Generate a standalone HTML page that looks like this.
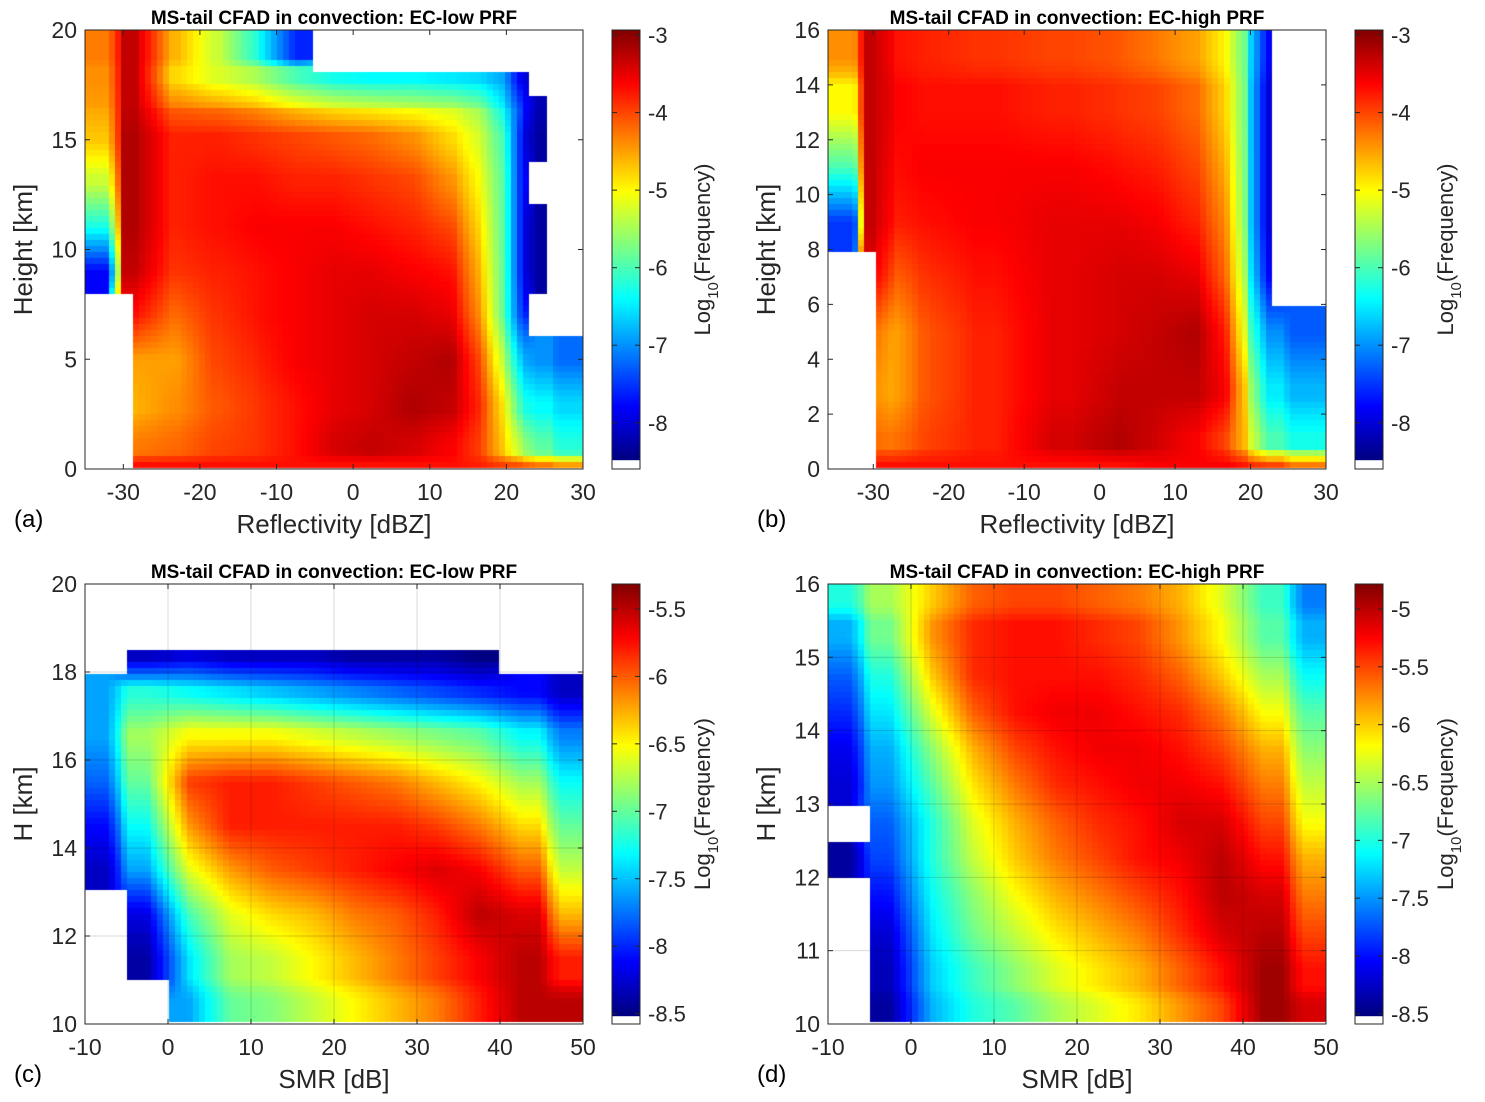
<!DOCTYPE html>
<html><head><meta charset="utf-8">
<style>
body{margin:0;background:#fff;width:1485px;height:1102px;overflow:hidden;position:relative;font-family:"Liberation Sans","DejaVu Sans",sans-serif}
canvas{position:absolute}
svg{position:absolute;left:0;top:0}
</style></head>
<body>
<canvas id="ca" style="left:85px;top:30px" width="498" height="439"></canvas>
<canvas id="cb" style="left:828px;top:30px" width="498" height="439"></canvas>
<canvas id="cc" style="left:85px;top:584px" width="498" height="440"></canvas>
<canvas id="cd" style="left:828px;top:584px" width="498" height="440"></canvas>
<svg id="ov" width="1485" height="1102"></svg>
<script>
const N=null;
// Panel a: reflectivity bins and log10 frequency
const aXEdges=[-35,-29,-27,-20,-15,-10,-5,0,5,10,15,18,21,23,25,30];
const aYEdges=[20,18,17,16,14,12,10,8,6,4,2,0.5,0];
const aVals=[
[-4.3,-3.3,-4.6,-5.3,-6.3,-7.6,N,N,N,N,N,N,N,N,N],
[-4.4,-3.3,-4.8,-5.2,-5.5,-6,-6.3,-6.4,-6.4,-6.5,-6.6,-6.9,-8,N,N],
[-4.5,-3.3,-4.2,-4.3,-4.5,-4.8,-5,-5.1,-5.2,-5.3,-5.6,-6.5,-7.5,-8.2,N],
[-4.7,-3.2,-3.8,-3.8,-3.9,-4.0,-4.1,-4.2,-4.4,-4.8,-5.3,-6.1,-7.8,-8.3,N],
[-5.3,-3.2,-3.8,-3.7,-3.7,-3.8,-3.8,-3.9,-4.0,-4.4,-5.1,-6.0,-7.8,N,N],
[-6.3,-3.2,-3.8,-3.7,-3.6,-3.6,-3.6,-3.7,-3.8,-4.0,-4.9,-6.0,-7.8,-8.3,N],
[-7.8,-3.3,-3.9,-3.8,-3.7,-3.6,-3.5,-3.5,-3.6,-3.7,-4.7,-6.0,-7.8,-8.3,N],
[N,-3.7,-4.2,-3.9,-3.7,-3.6,-3.5,-3.4,-3.4,-3.5,-4.5,-6,-7.6,N,N],
[N,-4.5,-4.5,-4.0,-3.8,-3.6,-3.5,-3.4,-3.3,-3.2,-4.1,-5.5,-6.8,-7,-7.2],
[N,-4.6,-4.4,-4.1,-3.9,-3.7,-3.5,-3.4,-3.2,-3.3,-3.9,-5,-6.2,-6.4,-6.6],
[N,-4.3,-4.2,-4.0,-3.9,-3.7,-3.4,-3.3,-3.4,-3.6,-4.0,-4.8,-5.5,-5.9,-6.2],
[N,-3.7,-3.7,-3.7,-3.7,-3.7,-3.7,-3.7,-3.7,-3.7,-3.8,-4,-4.1,-4.3,-4.5]];
// Panel b
const bXEdges=[-36,-30,-29,-25,-20,-10,0,5,10,15,18,21,23,30];
const bYEdges=[16,14,12,10,8,6,4,2,0.5,0];
const bVals=[
[-4.4,-3.3,-3.7,-3.8,-3.9,-4.0,-4.1,-4.3,-4.5,-5,-6,-7.8,N],
[-5,-3.3,-3.6,-3.7,-3.7,-3.8,-3.9,-4,-4.2,-4.8,-6,-8,N],
[-6,-3.3,-3.7,-3.6,-3.6,-3.6,-3.7,-3.8,-4,-4.6,-6,-8,N],
[-7.5,-3.3,-3.8,-3.7,-3.6,-3.5,-3.5,-3.6,-3.8,-4.4,-6,-8,N],
[N,-3.5,-4.2,-3.9,-3.7,-3.5,-3.4,-3.4,-3.5,-4.2,-5.8,-7.8,N],
[N,-4.2,-4.6,-4.1,-3.8,-3.5,-3.4,-3.3,-3.2,-3.8,-5.5,-7,-7.3],
[N,-4.4,-4.6,-4.1,-3.8,-3.5,-3.3,-3.3,-3.3,-3.6,-5,-6.5,-6.8],
[N,-4.2,-4.3,-4,-3.8,-3.4,-3.2,-3.4,-3.6,-4,-4.8,-6,-6.3],
[N,-3.7,-3.7,-3.7,-3.7,-3.7,-3.7,-3.6,-3.6,-3.6,-3.8,-4,-4.3]];
// Panel c: SMR bins
const cXEdges=[-10,-5,0,5,10,15,20,25,30,35,40,45,50];
const cYEdges=[20,19,18.5,18,17,16,15,14,13,12,11,10];
const cVals=[
[N,N,N,N,N,N,N,N,N,N,N,N],
[N,N,N,N,N,N,N,N,N,N,N,N],
[N,-8.3,-8.2,-8.3,-8.3,-8.3,-8.4,-8.4,-8.4,-8.5,N,N],
[-7.6,-7.2,-7.3,-7.4,-7.5,-7.6,-7.7,-7.8,-7.9,-8,-8.1,-8.3],
[-7.6,-6.8,-6.5,-6.5,-6.5,-6.6,-6.7,-6.8,-6.9,-7,-7.3,-7.7],
[-7.8,-7,-5.9,-5.8,-5.8,-5.9,-6.0,-6.1,-6.3,-6.5,-6.8,-7.3],
[-8.1,-7.3,-6.2,-5.8,-5.8,-5.8,-5.8,-5.8,-5.9,-6.1,-6.4,-7],
[-8.3,-7.6,-6.6,-6.2,-6.0,-5.9,-5.8,-5.7,-5.6,-5.7,-6,-6.7],
[N,-8.2,-7.1,-6.6,-6.4,-6.3,-6.1,-6,-5.8,-5.5,-5.6,-6.3],
[N,-8.4,-7.4,-6.8,-6.7,-6.5,-6.3,-6.1,-5.9,-5.7,-5.5,-5.8],
[N,N,-7.6,-7.0,-6.9,-6.7,-6.5,-6.3,-6.1,-5.8,-5.5,-5.5]];
// Panel d
const dXEdges=[-10,-5,0,5,10,15,20,25,30,35,40,45,50];
const dYEdges=[16,15.5,15,14.5,14,13.5,13,12.5,12,11.5,11,10.5,10];
const dVals=[
[-7,-6.5,-6,-5.6,-5.5,-5.5,-5.6,-5.7,-5.9,-6.3,-6.9,-7.6],
[-7.4,-6.7,-5.8,-5.4,-5.3,-5.3,-5.4,-5.5,-5.8,-6.2,-6.8,-7.4],
[-7.7,-7,-6,-5.4,-5.3,-5.3,-5.3,-5.4,-5.6,-6,-6.5,-7.1],
[-7.9,-7.2,-6.3,-5.6,-5.3,-5.2,-5.2,-5.3,-5.4,-5.7,-6.2,-6.8],
[-8.1,-7.4,-6.6,-5.9,-5.5,-5.3,-5.2,-5.2,-5.3,-5.5,-5.9,-6.6],
[-8.2,-7.5,-6.8,-6.1,-5.7,-5.4,-5.3,-5.2,-5.2,-5.3,-5.7,-6.4],
[N,-7.7,-7,-6.3,-5.9,-5.6,-5.4,-5.3,-5.1,-5.1,-5.5,-6.2],
[-8.4,-7.8,-7.0,-6.4,-6.0,-5.7,-5.5,-5.3,-5.2,-5.0,-5.3,-5.9],
[N,-8,-7.1,-6.6,-6.2,-5.9,-5.7,-5.5,-5.3,-5.0,-5.1,-5.7],
[N,-8.2,-7.2,-6.7,-6.4,-6.1,-5.9,-5.7,-5.4,-5.1,-5,-5.5],
[N,-8.3,-7.3,-6.9,-6.6,-6.3,-6.1,-5.9,-5.6,-5.3,-4.9,-5.3],
[N,-8.4,-7.4,-7.0,-6.8,-6.5,-6.3,-6.1,-5.8,-5.5,-4.9,-5.1]];
const aXTicks=[-30,-20,-10,0,10,20,30], aYTicks=[0,5,10,15,20];
const bXTicks=[-30,-20,-10,0,10,20,30], bYTicks=[0,2,4,6,8,10,12,14,16];
const cXTicks=[-10,0,10,20,30,40,50], cYTicks=[10,12,14,16,18,20];
const dXTicks=[-10,0,10,20,30,40,50], dYTicks=[10,11,12,13,14,15,16];
const abCbTicks=[-3,-4,-5,-6,-7,-8], cCbTicks=[-5.5,-6,-6.5,-7,-7.5,-8,-8.5], dCbTicks=[-5,-5.5,-6,-6.5,-7,-7.5,-8,-8.5];

function jet(t){t=Math.max(0,Math.min(1,t));const c=v=>Math.round(255*Math.max(0,Math.min(1,v)));
return `rgb(${c(1.5-Math.abs(4*t-3))},${c(1.5-Math.abs(4*t-2))},${c(1.5-Math.abs(4*t-1))})`;}
const NS="http://www.w3.org/2000/svg", ov=document.getElementById('ov');
function el(tag,attrs,txt){const e=document.createElementNS(NS,tag);for(const k in attrs)e.setAttribute(k,attrs[k]);if(txt!=null)e.textContent=txt;ov.appendChild(e);return e;}

const panels=[
{cv:'ca',px:85,py:30,w:498,h:439,xmin:-35,xmax:30,ymin:0,ymax:20,xe:aXEdges,ye:aYEdges,v:aVals,xt:aXTicks,yt:aYTicks,cmin:-8.48,cmax:-2.935,cbt:abCbTicks,title:'MS-tail CFAD in convection: EC-low PRF',xl:'Reflectivity [dBZ]',yl:'Height [km]',let:'(a)',grid:false},
{cv:'cb',px:828,py:30,w:498,h:439,xmin:-36,xmax:30,ymin:0,ymax:16,xe:bXEdges,ye:bYEdges,v:bVals,xt:bXTicks,yt:bYTicks,cmin:-8.48,cmax:-2.935,cbt:abCbTicks,title:'MS-tail CFAD in convection: EC-high PRF',xl:'Reflectivity [dBZ]',yl:'Height [km]',let:'(b)',grid:false},
{cv:'cc',px:85,py:584,w:498,h:440,xmin:-10,xmax:50,ymin:10,ymax:20,xe:cXEdges,ye:cYEdges,v:cVals,xt:cXTicks,yt:cYTicks,cmin:-8.51,cmax:-5.315,cbt:cCbTicks,title:'MS-tail CFAD in convection: EC-low PRF',xl:'SMR [dB]',yl:'H [km]',let:'(c)',grid:true},
{cv:'cd',px:828,py:584,w:498,h:440,xmin:-10,xmax:50,ymin:10,ymax:16,xe:dXEdges,ye:dYEdges,v:dVals,xt:dXTicks,yt:dYTicks,cmin:-8.51,cmax:-4.784,cbt:dCbTicks,title:'MS-tail CFAD in convection: EC-high PRF',xl:'SMR [dB]',yl:'H [km]',let:'(d)',grid:true}];

function findIdx(edges,v){for(let i=0;i<edges.length-1;i++){const a=edges[i],b=edges[i+1];if(v>=Math.min(a,b)&&v<=Math.max(a,b))return i;}return -1;}
function sample(p,x,y){
  const i=findIdx(p.ye,y),j=findIdx(p.xe,x);if(i<0||j<0)return null;if(p.v[i][j]==null)return null;
  const cx=p.xe.slice(0,-1).map((e,k)=>(e+p.xe[k+1])/2), cy=p.ye.slice(0,-1).map((e,k)=>(e+p.ye[k+1])/2);
  let j0=x<cx[j]?j-1:j, i0=y>cy[i]?i-1:i;
  let s=0,ws=0;
  for(const ii of [i0,i0+1])for(const jj of [j0,j0+1]){
    if(ii<0||jj<0||ii>=cy.length||jj>=cx.length)continue;const v=p.v[ii][jj];if(v==null)continue;
    const wx=1-Math.min(1,Math.abs(x-cx[jj])/Math.abs(cx[Math.min(jj+1,cx.length-1)]-cx[Math.max(jj-1,0)]||1)*2);
    const wy=1-Math.min(1,Math.abs(y-cy[ii])/Math.abs(cy[Math.min(ii+1,cy.length-1)]-cy[Math.max(ii-1,0)]||1)*2);
    const w=Math.max(0.001,wx)*Math.max(0.001,wy);s+=w*v;ws+=w;}
  return ws?s/ws:p.v[i][j];
}
panels.forEach((p,k)=>{
  const X=v=>p.px+(v-p.xmin)/(p.xmax-p.xmin)*p.w, Y=v=>p.py+p.h-(v-p.ymin)/(p.ymax-p.ymin)*p.h;
  const ctx=document.getElementById(p.cv).getContext('2d');const step=6;
  for(let yy=0;yy<p.h;yy+=step)for(let xx=0;xx<p.w;xx+=step){
    const dx=p.xmin+(xx+step/2)/p.w*(p.xmax-p.xmin), dy=p.ymax-(yy+step/2)/p.h*(p.ymax-p.ymin);
    const v=sample(p,dx,dy);if(v==null)continue;
    ctx.fillStyle=jet((v-p.cmin)/(p.cmax-p.cmin));ctx.fillRect(xx,yy,step,step);}
  const L=p.px,R=p.px+p.w,T=p.py,B=p.py+p.h;
  if(p.grid){p.xt.forEach(t=>{const g=el('line',{x1:X(t),x2:X(t),y1:T,y2:B,stroke:'#000','stroke-opacity':0.15,'stroke-width':1});});
    p.yt.forEach(t=>{const g=el('line',{x1:L,x2:R,y1:Y(t),y2:Y(t),stroke:'#000','stroke-opacity':0.15,'stroke-width':1});});}
  const box=el('rect',{x:L,y:T,width:p.w,height:p.h,fill:'none',stroke:'#262626','stroke-width':1});
  
  p.xt.forEach(t=>{el('line',{x1:X(t),x2:X(t),y1:B,y2:B-5,stroke:'#262626'});el('line',{x1:X(t),x2:X(t),y1:T,y2:T+5,stroke:'#262626'});
    const tx=el('text',{x:X(t),y:B+31,'font-size':23,'text-anchor':'middle',fill:'#262626'},t);});
  p.yt.forEach(t=>{el('line',{x1:L,x2:L+5,y1:Y(t),y2:Y(t),stroke:'#262626'});el('line',{x1:R,x2:R-5,y1:Y(t),y2:Y(t),stroke:'#262626'});
    const tx=el('text',{x:L-8,y:Y(t)+8,'font-size':23,'text-anchor':'end',fill:'#262626'},t);});
  const ti=el('text',{x:(L+R)/2,y:T-6,'font-size':19,'font-weight':'bold','text-anchor':'middle',fill:'#000'},p.title);
  
  const xl=el('text',{x:(L+R)/2,y:B+64,'font-size':26,'text-anchor':'middle',fill:'#262626'},p.xl);
  
  const yl=el('text',{x:0,y:0,'font-size':26,'text-anchor':'middle',fill:'#262626',transform:`translate(${L-53},${(T+B)/2}) rotate(-90)`},p.yl);
  
  const lt=el('text',{x:L-71,y:B+58,'font-size':24,fill:'#000'},p.let);
  
  const cbx=R+29,cbw=28,cTop=T,cBot=B-9;const C=v=>cTop+(p.cmax-v)/(p.cmax-p.cmin)*(cBot-cTop);
  for(let y=cTop;y<cBot;y+=2){const v=p.cmax-(y-cTop+1)/(cBot-cTop)*(p.cmax-p.cmin);
    el('rect',{x:cbx,y:y,width:cbw,height:2.2,fill:jet((v-p.cmin)/(p.cmax-p.cmin))});}
  const cbf=el('rect',{x:cbx,y:T,width:cbw,height:p.h,fill:'none',stroke:'#262626'});
  
  p.cbt.forEach(t=>{el('line',{x1:cbx,x2:cbx+5,y1:C(t),y2:C(t),stroke:'#262626'});el('line',{x1:cbx+cbw,x2:cbx+cbw-5,y1:C(t),y2:C(t),stroke:'#262626'});
    const tx=el('text',{x:cbx+cbw+8,y:C(t)+8,'font-size':22,fill:'#262626'},t);});
  const cl=el('text',{x:0,y:0,'font-size':22,'text-anchor':'middle',fill:'#262626',transform:`translate(${cbx+cbw+70},${(T+B)/2}) rotate(-90)`});
  
  cl.innerHTML='Log<tspan font-size="15" dy="8">10</tspan><tspan dy="-8">(Frequency)</tspan>';
});
</script>
</body></html>
